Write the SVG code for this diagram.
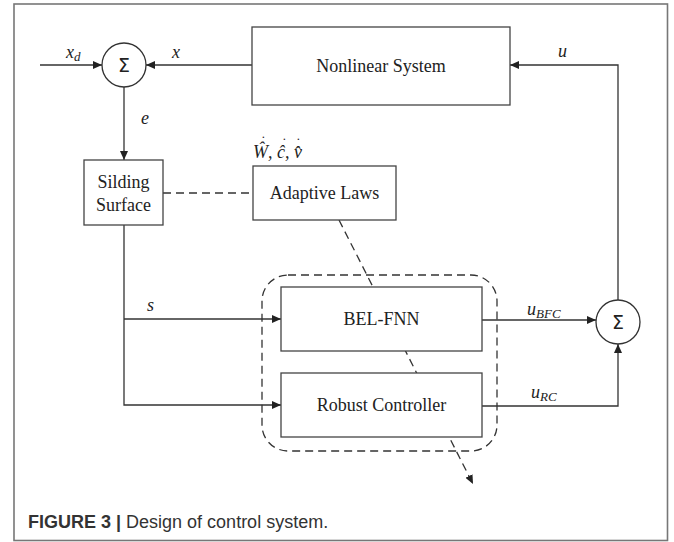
<svg xmlns="http://www.w3.org/2000/svg" width="674" height="542" viewBox="0 0 674 542">
<style>
.ln{fill:none;stroke:#333;stroke-width:1.3}
.dash{fill:none;stroke:#333;stroke-width:1.3;stroke-dasharray:8 5}
.box{fill:#fff;stroke:#444;stroke-width:1.3}
.t{font-family:"Liberation Serif","Times New Roman",serif;font-size:18px;fill:#222;text-anchor:middle}
.it{font-family:"Liberation Serif","Times New Roman",serif;font-style:italic;font-size:18px;fill:#222}
.sub{font-size:13px}
.acc{font-size:14px;font-style:normal}
.sig{font-family:"DejaVu Sans","Liberation Sans",sans-serif;font-size:19px;fill:#222;text-anchor:middle}
.cap{font-family:"Liberation Sans",Arial,sans-serif;font-size:18px;fill:#333}
</style>
<defs>
<marker id="ah" markerWidth="9" markerHeight="8" refX="9" refY="4" orient="auto" markerUnits="userSpaceOnUse">
<path d="M0,0 L9,4 L0,8 Z" fill="#222"/>
</marker>
</defs>
<rect x="14" y="4" width="653.5" height="536.5" fill="#fff" stroke="#777" stroke-width="1.6"/>

<g id="connectors">
<line class="ln" x1="40" y1="65" x2="102" y2="65" marker-end="url(#ah)"/>
<line class="ln" x1="252" y1="65" x2="146" y2="65" marker-end="url(#ah)"/>
<line class="ln" x1="124" y1="87" x2="124" y2="160" marker-end="url(#ah)"/>
<polyline class="ln" points="618,300 618,65 510,65" marker-end="url(#ah)"/>
<polyline class="ln" points="124,225 124,405 281,405" marker-end="url(#ah)"/>
<line class="ln" x1="124" y1="319" x2="281" y2="319" marker-end="url(#ah)"/>
<line class="ln" x1="482" y1="320" x2="596" y2="320" marker-end="url(#ah)"/>
<polyline class="ln" points="482,406 618,406 618,344" marker-end="url(#ah)"/>
<line class="dash" x1="163" y1="193" x2="253" y2="193"/>
<line class="dash" x1="339" y1="220" x2="473" y2="484" marker-end="url(#ah)"/>
<rect class="dash" x="262" y="275" width="235" height="176" rx="26" ry="26"/>
</g>

<g id="sum1">
<circle cx="124" cy="65" r="22" fill="#fff" stroke="#333" stroke-width="1.3"/>
<text class="sig" x="124" y="72">Σ</text>
</g>
<g id="sum2">
<circle cx="618" cy="322" r="22" fill="#fff" stroke="#333" stroke-width="1.3"/>
<text class="sig" x="618" y="329">Σ</text>
</g>
<g id="nonlinear">
<rect class="box" x="252" y="27" width="258" height="78"/>
<text class="t" x="381" y="72">Nonlinear System</text>
</g>
<g id="sliding">
<rect class="box" x="84" y="160" width="79" height="65"/>
<text class="t" x="123.5" y="188">Silding</text>
<text class="t" x="123.5" y="211">Surface</text>
</g>
<g id="adaptive">
<rect class="box" x="253" y="166" width="143" height="54"/>
<text class="t" x="324.5" y="199">Adaptive Laws</text>
</g>
<g id="belfnn">
<rect class="box" x="281" y="287" width="201" height="64"/>
<text class="t" x="381.5" y="325">BEL-FNN</text>
</g>
<g id="robust">
<rect class="box" x="281" y="373" width="201" height="64"/>
<text class="t" x="381.5" y="411">Robust Controller</text>
</g>

<g id="labels">
<text class="it" x="66" y="58">x<tspan class="sub" dy="3">d</tspan></text>
<text class="it" x="172" y="58">x</text>
<text class="it" x="558" y="57">u</text>
<text class="it" x="141" y="124">e</text>
<text class="it" x="147" y="311">s</text>
<text class="it" x="527" y="315">u<tspan class="sub" dy="3">BFC</tspan></text>
<text class="it" x="531" y="398">u<tspan class="sub" dy="3">RC</tspan></text>
<text class="it" x="253" y="158" font-size="16">Ŵ, ĉ, v̂<tspan class="acc" x="261" y="146">˙</tspan><tspan class="acc" x="282" y="148">˙</tspan><tspan class="acc" x="296" y="148">˙</tspan></text>
</g>

<text class="cap" x="28" y="528"><tspan font-weight="bold">FIGURE 3 | </tspan>Design of control system.</text>
</svg>
